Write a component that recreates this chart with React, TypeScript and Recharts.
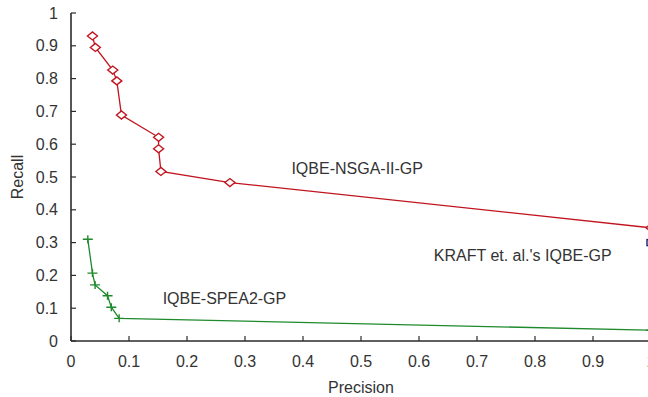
import React from 'react';
import { ComposedChart, Line, Scatter, XAxis, YAxis, ReferenceDot } from 'recharts';

const xTicks = [0, 0.1, 0.2, 0.3, 0.4, 0.5, 0.6, 0.7, 0.8, 0.9, 1];
const yTicks = [0, 0.1, 0.2, 0.3, 0.4, 0.5, 0.6, 0.7, 0.8, 0.9, 1];

const nsgaPrecision = [0.037, 0.042, 0.072, 0.079, 0.087, 0.151, 0.151, 0.155, 0.274, 1.0];
const nsgaRecall = [0.93, 0.895, 0.826, 0.793, 0.689, 0.621, 0.586, 0.517, 0.483, 0.345];

const speaPrecision = [0.029, 0.037, 0.0415, 0.063, 0.0695, 0.083, 1.0];
const speaRecall = [0.31, 0.207, 0.171, 0.138, 0.103, 0.069, 0.033];

const kraftPrecision = [1.0];
const kraftRecall = [0.3];

const annotationLabels = ['IQBE-NSGA-II-GP', "KRAFT et. al.'s IQBE-GP", 'IQBE-SPEA2-GP'];
const annotationX = [0.38, 0.6255, 0.158];
const annotationY = [0.509, 0.245, 0.113];

const RED = '#c0141e';
const GREEN = '#1f8a2c';
const NAVY = '#1a1a7a';
const AXIS = '#2b2b2b';
const TEXT = '#333333';

const nsgaData = nsgaPrecision.map((x, i) => ({ x, y: nsgaRecall[i] }));
const speaData = speaPrecision.map((x, i) => ({ x, y: speaRecall[i] }));
const kraftData = kraftPrecision.map((x, i) => ({ x, y: kraftRecall[i] }));

const Diamond = (props: any) => {
  const { cx, cy } = props;
  if (cx == null || cy == null) return null;
  return (
    <path
      d={`M${cx - 5},${cy} L${cx},${cy - 4} L${cx + 5},${cy} L${cx},${cy + 4} Z`}
      fill="#fff"
      stroke={RED}
      strokeWidth={1.4}
    />
  );
};

const Plus = (props: any) => {
  const { cx, cy } = props;
  if (cx == null || cy == null) return null;
  return (
    <path
      d={`M${cx - 5},${cy} L${cx + 5},${cy} M${cx},${cy - 4} L${cx},${cy + 4}`}
      fill="none"
      stroke={GREEN}
      strokeWidth={1.4}
    />
  );
};

const Square = (props: any) => {
  const { cx, cy } = props;
  if (cx == null || cy == null) return null;
  return (
    <g>
      <rect x={cx - 4} y={cy - 3} width={8} height={6} fill="none" stroke={NAVY} strokeWidth={1.4} />
    </g>
  );
};

const PrecisionLabel = (props: any) => {
  const vb = props.viewBox || { x: 0, y: 0, width: 0, height: 0 };
  return (
    <text x={vb.x + vb.width / 2} y={vb.y + 52} textAnchor="middle" fontSize={16} fill={TEXT}>
      Precision
    </text>
  );
};

const RecallLabel = (props: any) => {
  const vb = props.viewBox || { x: 0, y: 0, width: 0, height: 0 };
  const x = vb.x + 23;
  const y = vb.y + vb.height / 2;
  return (
    <text x={x} y={y} textAnchor="middle" fontSize={16} fill={TEXT} transform={`rotate(-90, ${x}, ${y})`}>
      Recall
    </text>
  );
};

const fmt = (v: number) => String(v);

export default function App() {
  return (
    <div
      style={{
        position: 'absolute',
        left: 0,
        top: 0,
        width: 648,
        height: 397,
        overflow: 'hidden',
        background: '#fff',
        fontFamily: '"Liberation Sans", Arial, sans-serif',
      }}
    >
      <ComposedChart width={660} height={397} margin={{ top: 13, right: 9, left: 0, bottom: 0 }}>
        <XAxis
          xAxisId={0}
          type="number"
          dataKey="x"
          domain={[0, 1]}
          ticks={xTicks}
          tickFormatter={fmt}
          orientation="bottom"
          height={56}
          tickSize={-5}
          tickMargin={20}
          axisLine={{ stroke: AXIS, strokeWidth: 1.6 }}
          tickLine={{ stroke: AXIS, strokeWidth: 1.2 }}
          tick={{ fill: TEXT, fontSize: 16 }}
          interval={0}
          allowDataOverflow
          label={<PrecisionLabel />}
        />
        <XAxis
          xAxisId="top"
          type="number"
          dataKey="x"
          domain={[0, 1]}
          ticks={xTicks}
          orientation="top"
          height={0}
          tickSize={-5}
          axisLine={{ stroke: AXIS, strokeWidth: 1.6 }}
          tickLine={{ stroke: AXIS, strokeWidth: 1.2 }}
          tick={false}
          interval={0}
          allowDataOverflow
        />
        <YAxis
          yAxisId={0}
          type="number"
          dataKey="y"
          domain={[0, 1]}
          ticks={yTicks}
          tickFormatter={fmt}
          orientation="left"
          width={71}
          tickSize={-5}
          tickMargin={18}
          axisLine={{ stroke: AXIS, strokeWidth: 1.6 }}
          tickLine={{ stroke: AXIS, strokeWidth: 1.2 }}
          tick={{ fill: TEXT, fontSize: 16 }}
          interval={0}
          allowDataOverflow
          label={<RecallLabel />}
        />
        <YAxis
          yAxisId="right"
          type="number"
          dataKey="y"
          domain={[0, 1]}
          ticks={yTicks}
          orientation="right"
          width={0}
          tickSize={-5}
          axisLine={{ stroke: AXIS, strokeWidth: 1.6 }}
          tickLine={{ stroke: AXIS, strokeWidth: 1.2 }}
          tick={false}
          interval={0}
          allowDataOverflow
        />
        <Line
          data={nsgaData}
          dataKey="y"
          type="linear"
          stroke={RED}
          strokeWidth={1.3}
          dot={<Diamond />}
          activeDot={false}
          isAnimationActive={false}
        />
        <Line
          data={speaData}
          dataKey="y"
          type="linear"
          stroke={GREEN}
          strokeWidth={1.3}
          dot={<Plus />}
          activeDot={false}
          isAnimationActive={false}
        />
        <Scatter data={kraftData} dataKey="y" shape={<Square />} isAnimationActive={false} />
        {annotationLabels.map((t, i) => (
          <ReferenceDot
            key={t}
            x={annotationX[i]}
            y={annotationY[i]}
            r={0}
            ifOverflow="visible"
            shape={(p: any) => (
              <text x={p.cx} y={p.cy} fontSize={16} fill={TEXT} textAnchor="start">
                {t}
              </text>
            )}
          />
        ))}
      </ComposedChart>
    </div>
  );
}
